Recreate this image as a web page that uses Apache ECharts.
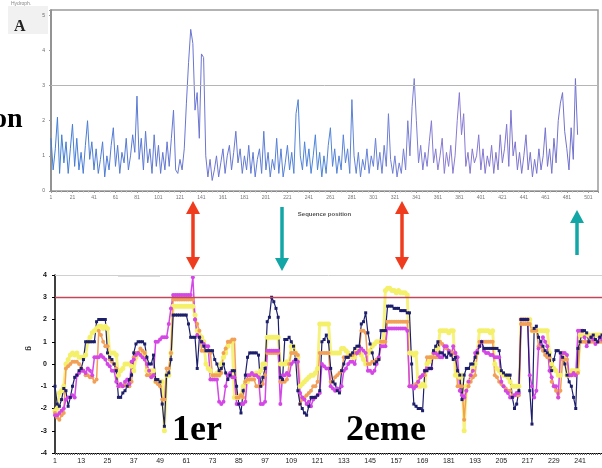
<!DOCTYPE html>
<html><head><meta charset="utf-8">
<script src="https://cdn.jsdelivr.net/npm/echarts@6/dist/echarts.min.js"></script>
<style>html,body{margin:0;padding:0;background:#fff}#c{width:602px;height:468px}</style>
</head><body><div id="c"></div>
<script>
// ---- Top profile (sequence position step 2) ----
const topValues = [
1.5,0.6,1.2,2.1,0.5,1.6,0.8,1.4,0.5,1.2,
1.9,0.7,1.5,0.6,1.1,0.5,1.3,2.0,0.9,1.4,
0.6,1.2,0.5,0.9,1.4,0.4,1.0,0.6,1.3,1.8,
0.7,1.3,0.5,1.1,0.8,1.5,0.6,1.0,1.6,1.1,
2.7,0.9,1.5,0.6,1.7,0.8,1.2,0.5,1.6,0.7,
1.3,0.5,1.1,0.6,1.4,0.7,1.5,2.3,0.6,0.5,
0.9,0.6,1.2,2.5,3.65,4.6,4.2,2.3,2.8,1.5,
3.9,3.8,1.0,0.4,0.9,0.3,0.6,1.0,0.4,0.8,
1.2,0.5,1.0,1.3,0.6,1.1,1.7,0.8,1.2,0.5,
1.0,0.6,1.3,0.5,1.1,0.4,0.9,1.2,0.5,1.7,
0.6,1.1,0.4,0.9,0.6,1.5,0.5,1.2,0.4,0.8,
1.3,0.6,1.1,0.5,2.2,2.6,1.0,0.6,1.4,0.7,
1.2,0.5,1.0,1.6,0.6,1.1,0.4,1.0,0.5,1.3,
1.8,0.7,1.2,0.5,1.0,0.6,1.6,0.8,1.2,0.5,
2.6,1.0,0.5,1.1,0.4,0.9,0.6,1.2,0.5,1.0,
0.7,1.5,0.6,1.1,0.5,1.3,0.7,2.2,0.9,0.5,
1.0,0.4,0.8,0.5,1.2,0.6,2.0,1.0,2.4,3.2,
2.0,0.8,1.3,0.6,1.1,0.7,1.4,2.0,0.8,1.2,
0.6,1.0,1.5,0.5,1.1,0.7,1.3,0.5,1.0,2.0,
2.8,1.6,2.2,0.7,1.1,0.5,1.2,0.8,1.0,1.6,
0.6,1.2,0.5,1.0,0.7,1.3,0.5,1.1,0.6,1.6,
0.8,1.2,1.9,0.7,2.3,1.0,1.4,0.6,1.1,0.5,
1.0,1.6,0.6,1.1,0.4,0.9,0.5,1.2,0.6,1.0,
1.8,0.7,1.2,0.5,1.5,0.8,2.0,2.5,2.8,1.7,
1.2,0.6,1.8,0.9,3.2,1.6
];
const topPositions = topValues.map((v, k) => 1 + 2 * k);
const topYTicks = [0, 1, 2, 3, 4, 5];
const topThreshold = 3;

// ---- Bottom profiles (positions 1..251) ----
const bottomCategories = Array.from({length: 251}, (_, i) => String(i + 1));
const navy = [
-1.0,-1.8,-1.9,-1.6,-1.1,-1.2,-1.9,-1.5,-1.0,-0.6,
-0.5,-0.3,-0.2,0.2,1.0,1.0,1.0,1.0,1.0,1.9,
2.0,2.0,2.0,2.0,0.5,0.3,0.2,0.0,-0.3,-1.5,
-1.5,-1.3,-1.2,-1.0,-0.7,-0.5,0.5,0.9,1.0,1.0,
1.0,0.9,0.3,0.0,0.0,0.4,-0.7,-0.7,-0.8,-1.8,
-2.8,-0.5,-0.4,0.2,2.2,2.2,2.2,2.2,2.2,2.2,
2.2,1.8,1.2,1.2,1.2,-0.2,1.2,1.0,0.8,0.6,
0.6,0.6,0.6,0.2,0.0,-0.3,-0.2,0.0,-0.4,-0.7,
-0.5,-0.3,-0.3,-1.0,-1.8,-2.2,-1.2,-0.5,0.3,0.5,
0.5,0.5,0.5,0.4,-1.0,-0.6,-0.2,1.9,2.1,3.0,
2.8,2.5,2.1,-0.6,-0.7,1.1,1.1,1.2,1.0,0.8,
0.2,-1.2,-1.8,-2.0,-2.2,-2.3,-1.9,-1.5,-1.5,-1.5,
-1.4,-1.2,1.0,1.1,1.3,1.0,-0.2,-0.8,-0.9,-1.2,
-1.3,-0.3,0.0,0.3,0.3,0.4,0.5,0.7,0.8,0.8,
1.8,1.9,2.3,1.4,0.9,0.5,0.0,0.1,0.2,1.5,
1.5,1.5,2.6,2.6,2.6,2.5,2.5,2.5,2.4,2.4,
2.4,2.3,2.3,0.0,-1.8,-1.9,-2.0,-2.0,-2.1,-0.3,
-0.3,-0.2,-0.2,0.6,0.8,1.0,0.5,0.5,0.4,0.3,
0.5,0.4,0.2,0.3,-0.3,-0.5,-1.6,-0.5,-0.2,-0.2,
0.0,0.0,0.3,0.5,0.8,1.0,0.7,0.7,0.7,0.7,
0.7,0.7,0.7,0.6,-0.3,-0.4,-0.5,-0.5,-0.5,-1.5,
-2.0,-1.8,-1.2,2.0,2.0,2.0,2.0,-1.2,-2.7,1.6,
1.7,1.2,1.0,0.8,0.6,0.5,0.4,-0.3,0.2,0.6,
0.6,0.5,0.3,0.0,-0.5,-0.8,-1.0,-1.5,-2.0,0.7,
1.0,1.5,1.5,1.4,1.0,1.2,1.3,1.1,1.0,1.2,1.3
];
const magenta = [
-2.3,-2.3,-2.2,-2.1,-2.0,-1.6,-1.5,-1.5,-1.4,-1.5,
-0.5,-0.4,-0.3,-0.3,-0.4,-0.2,-0.3,-0.5,0.3,0.3,
0.3,0.4,0.3,0.2,0.0,-0.1,-0.3,-0.3,-0.8,-1.0,
-0.9,-1.0,-0.8,-0.7,-0.9,0.1,0.2,0.4,0.5,0.4,
0.3,0.2,0.0,-0.3,-0.6,-0.5,1.0,1.0,1.1,1.2,
1.2,1.2,1.8,2.5,3.1,3.1,3.1,3.1,3.1,3.1,
3.1,3.1,3.1,3.9,2.0,1.3,1.2,1.0,0.9,0.8,
0.8,-0.7,-0.7,-0.7,-0.7,-1.7,-1.8,-1.7,-1.0,-0.5,
-0.4,-0.6,-0.6,-1.8,-1.8,-1.8,-1.8,-1.7,-0.5,-0.5,
-0.4,-0.5,-0.5,-0.6,-1.8,-1.8,-1.7,0.6,0.6,0.6,
0.6,0.6,0.6,-1.8,-0.5,-0.5,-0.4,-0.5,0.0,0.1,
0.2,0.1,-1.3,-1.5,-1.6,-1.8,-1.7,-1.9,-1.6,-1.5,
-1.4,-1.3,0.0,-0.1,-0.2,-0.2,-1.0,-1.1,-1.2,-1.1,
-1.2,-1.0,-0.3,-0.2,0.0,0.1,0.1,0.0,0.5,0.6,
0.7,0.6,0.5,-0.3,-0.3,-0.4,-0.3,0.0,0.3,0.8,
0.8,0.8,1.6,1.6,1.6,1.6,1.6,1.6,1.6,1.6,
1.6,1.5,-1.0,-1.0,-1.1,-1.0,-0.8,-0.6,-0.5,-0.3,
-0.2,-0.2,-0.2,0.5,0.5,0.4,0.3,0.3,0.8,0.8,
0.6,0.4,0.8,0.5,0.3,-1.2,-1.4,-1.5,-1.2,-0.8,
-0.5,-0.3,0.5,0.6,0.8,1.0,0.6,0.5,0.5,0.4,
0.4,0.3,0.3,0.3,-0.8,-1.0,-1.2,-1.3,-1.5,-1.5,
-1.4,-1.3,-1.3,2.0,2.0,2.0,2.0,-0.5,-1.0,-1.5,
-1.2,0.7,0.9,1.2,1.0,0.8,-0.3,-0.6,-1.0,-1.0,
-1.5,0.5,0.5,0.5,0.4,-0.5,-0.5,-0.4,-0.5,1.5,
1.5,1.5,1.2,0.8,1.0,1.2,1.1,0.9,1.0,1.2,1.1
];
const yellow = [
-2.1,-2.0,-1.3,-1.2,-1.0,0.0,0.2,0.4,0.5,0.4,
0.5,0.3,0.3,0.3,0.4,1.0,1.2,1.4,1.5,1.6,
1.7,1.7,1.6,1.7,1.6,0.5,0.5,0.5,0.4,-0.5,
-0.3,-0.2,0.0,0.0,0.0,-0.1,-0.3,0.3,0.5,0.5,
0.4,0.5,-0.3,-0.3,-0.3,-0.3,-0.8,-0.8,-0.8,-0.8,
-3.0,-0.5,-0.5,0.5,2.6,2.6,2.6,2.6,2.6,2.6,
2.6,2.6,2.6,2.6,2.2,1.5,1.3,1.2,1.0,0.0,
-0.2,-0.3,-0.5,-0.5,-0.4,-0.5,0.0,0.3,0.5,0.8,
1.0,1.0,-1.5,-1.5,-1.5,-1.4,-1.0,-0.8,-0.8,-0.5,
-0.5,-0.5,-0.4,-0.5,-0.3,0.0,0.0,1.2,1.2,1.2,
1.2,1.2,1.2,0.0,0.0,0.0,0.1,0.0,0.8,0.8,
0.5,0.3,-1.0,-0.9,-0.8,-0.7,-0.6,-0.5,-0.5,-0.4,
-0.2,1.8,1.8,1.8,1.8,1.8,0.5,0.5,0.5,0.5,
0.5,0.7,0.7,0.6,0.5,0.4,0.3,0.3,0.6,0.6,
0.4,0.2,0.0,0.5,0.6,0.8,0.9,1.0,1.0,1.0,
1.0,3.3,3.4,3.4,3.3,3.3,3.2,3.3,3.2,3.2,
3.2,3.1,0.5,0.5,0.4,0.5,-1.0,-1.0,-0.9,-1.0,
0.0,0.1,0.3,0.5,0.6,0.7,1.5,1.5,1.5,1.5,
1.4,1.5,1.5,-0.5,-0.5,-0.6,-0.5,-3.0,-1.0,-0.8,
-0.5,-0.2,0.0,0.5,1.5,1.5,1.5,1.5,1.5,1.4,
1.5,0.0,-0.2,-0.3,-0.4,-0.5,-0.5,-0.6,-0.8,-1.0,
-1.0,-1.0,-1.0,2.0,2.0,2.0,2.0,2.0,1.5,1.5,
1.5,1.5,1.5,1.5,1.5,1.5,0.5,0.0,-0.2,-0.3,
-0.5,-0.5,0.5,0.3,-0.5,-0.5,-0.3,-0.3,-0.3,-0.3,
1.3,1.3,1.3,1.3,1.3,1.2,1.3,1.3,1.3,1.3,1.3
];
const orange = [
-2.2,-2.4,-2.5,-2.3,-2.2,-0.2,-0.1,0.0,0.1,0.1,
0.1,0.0,-0.2,-0.3,-0.5,-0.5,-0.6,-0.6,-0.8,-0.7,
1.5,1.3,1.0,0.8,0.8,0.2,0.1,0.0,-0.2,-1.0,
-1.0,-1.0,-0.9,-1.0,-1.0,-0.8,0.3,0.5,0.5,0.7,
0.6,0.5,-0.5,-0.5,-0.5,-0.5,-0.8,-0.9,-1.0,-1.6,
-1.6,-0.2,-0.2,0.5,2.9,2.9,2.9,2.9,2.9,2.9,
2.9,2.9,2.9,2.9,2.0,1.8,1.5,0.6,0.6,0.6,
0.6,0.5,-0.5,-0.5,-0.5,-0.5,-0.4,0.5,0.7,1.0,
1.0,1.1,1.1,-1.5,-1.5,-1.4,-1.5,-0.8,-0.7,-0.7,
-0.7,-0.7,-1.0,-1.0,-1.0,-0.9,-0.5,0.5,0.5,0.5,
0.5,0.5,0.5,-0.8,-0.8,-0.8,-0.7,0.0,0.5,0.5,
0.5,0.4,-1.8,-1.6,-1.5,-1.4,-1.3,-1.2,-1.0,-1.0,
-0.8,0.5,0.5,0.5,0.5,0.5,-0.8,-0.8,-0.6,-0.5,
-0.4,-0.3,0.3,0.3,0.3,0.4,0.4,0.5,0.5,0.5,
1.5,1.5,1.4,0.0,0.0,0.1,0.1,0.2,0.2,1.0,
1.0,1.0,1.9,1.9,1.9,1.9,1.9,1.9,1.9,1.9,
1.9,1.9,-1.0,-1.0,-1.0,-0.9,-0.8,-0.6,-0.5,-0.5,
0.3,0.3,0.3,0.3,0.3,0.3,1.0,0.9,0.8,0.7,
0.6,0.5,0.5,0.5,-1.0,-1.0,-1.0,-2.5,-1.2,-1.0,
-0.8,-0.6,-0.5,0.5,1.0,1.0,1.0,1.0,1.0,1.0,
1.0,-0.5,-0.6,-0.8,-0.9,-1.0,-1.1,-1.2,-1.2,-1.4,
-1.4,-1.4,-1.4,1.8,1.8,1.8,1.8,1.8,1.5,1.5,
1.5,0.8,0.8,0.6,0.4,0.3,0.3,-0.8,-1.0,-1.2,
-1.5,-1.2,0.2,0.2,0.2,-0.5,-0.5,-0.5,-0.5,-0.4,
1.0,1.0,1.0,1.0,1.0,1.0,1.0,1.0,1.0,1.0,1.0
];
const bottomYTicks = [-4,-3,-2,-1,0,1,2,3,4];
const bottomThreshold = 3;
const bottomTopLine = 4;

const chart = echarts.init(document.getElementById('c'), null, {renderer: 'canvas'});
const serif = '"Liberation Serif","DejaVu Serif",serif';

function arrow(x, y1, y2, color, headTop, headBottom) {
  const els = [];
  const hw = 7, hl = 13;
  const s1 = headTop ? y1 + hl - 1 : y1;
  const s2 = headBottom ? y2 - hl + 1 : y2;
  els.push({type: 'line', shape: {x1: x, y1: s1, x2: x, y2: s2}, style: {stroke: color, lineWidth: 3.5}});
  if (headTop) els.push({type: 'polygon', shape: {points: [[x, y1], [x - hw, y1 + hl], [x + hw, y1 + hl]]}, style: {fill: color}});
  if (headBottom) els.push({type: 'polygon', shape: {points: [[x, y2], [x - hw, y2 - hl], [x + hw, y2 - hl]]}, style: {fill: color}});
  return els;
}

const red = '#f03c1e', teal = '#12a6a6';
const graphics = [].concat(
  arrow(193, 201, 270, red, true, true),
  arrow(282, 207, 271, teal, false, true),
  arrow(402, 201, 270, red, true, true),
  arrow(577, 210, 255, teal, true, false),
  [
    {type: 'rect', shape: {x: 8, y: 6, width: 40, height: 28}, style: {fill: '#f1f1f1'}, z: -1},
    {type: 'text', x: 11, y: 1, style: {text: 'Hydroph.', font: '5px sans-serif', fill: '#888'}},
    {type: 'text', x: 14, y: 19, style: {text: 'A', font: 'bold 16px ' + serif, fill: '#222'}},
    {type: 'text', x: -7, y: 106, style: {text: 'on', font: 'bold 28px ' + serif, fill: '#000'}},
    {type: 'text', x: 172, y: 413, style: {text: '1er', font: 'bold 36px ' + serif, fill: '#000'}},
    {type: 'text', x: 346, y: 413, style: {text: '2eme', font: 'bold 36px ' + serif, fill: '#000'}},
    {type: 'text', x: 33, y: 346, rotation: -Math.PI / 2, style: {text: 'g', font: 'bold 8px sans-serif', fill: '#333'}},
    {type: 'line', shape: {x1: 118, y1: 276, x2: 160, y2: 276}, style: {stroke: '#bbb', lineWidth: 1}}
  ]
);

const lineBase = {type: 'line', smooth: false, showAllSymbol: true, xAxisIndex: 1, yAxisIndex: 1};

chart.setOption({
  animation: false,
  backgroundColor: '#fff',
  graphic: graphics,
  grid: [
    {left: 51, right: 4, top: 10, height: 181, show: true, borderColor: '#9a9a9a', borderWidth: 1.5, backgroundColor: '#fff'},
    {left: 55, right: 0, top: 275, height: 178}
  ],
  xAxis: [
    {
      gridIndex: 0, type: 'value', min: 1, max: 510, interval: 20,
      axisLine: {show: true, onZero: false, lineStyle: {color: '#888'}},
      axisTick: {show: true, length: 2, lineStyle: {color: '#999'}},
      minorTick: {show: true, splitNumber: 4, length: 1.5, lineStyle: {color: '#bbb'}},
      axisLabel: {fontSize: 5, color: '#777', margin: 4, showMaxLabel: false},
      splitLine: {show: false},
      name: 'Sequence position', nameLocation: 'middle', nameGap: 20,
      nameTextStyle: {fontSize: 6, color: '#555', fontWeight: 'bold'}
    },
    {
      gridIndex: 1, type: 'category', data: bottomCategories, boundaryGap: false,
      axisLine: {show: true, onZero: false, lineStyle: {color: '#000', width: 1.2}},
      axisTick: {show: true, interval: 0, length: 2, lineStyle: {color: '#666'}},
      axisLabel: {interval: 11, fontSize: 7, color: '#222', margin: 5},
      splitLine: {show: false}
    }
  ],
  yAxis: [
    {
      gridIndex: 0, type: 'value', min: topYTicks[0], max: 5.15, interval: 1,
      axisLine: {show: true, onZero: false, lineStyle: {color: '#888', width: 1.5}},
      axisTick: {show: true, length: 2, lineStyle: {color: '#999'}},
      axisLabel: {fontSize: 5, color: '#666', margin: 6,
        formatter: v => topYTicks.includes(v) ? String(v) : ''},
      splitLine: {show: false}
    },
    {
      gridIndex: 1, type: 'value', min: bottomYTicks[0], max: bottomYTicks[bottomYTicks.length - 1], interval: 1,
      axisLine: {show: true, onZero: false, lineStyle: {color: '#000', width: 1.5}},
      axisTick: {show: true, length: 3, lineStyle: {color: '#000'}},
      axisLabel: {fontSize: 7, color: '#111', fontWeight: 'bold', margin: 8},
      splitLine: {show: false}
    }
  ],
  series: [
    {
      type: 'line', smooth: false, xAxisIndex: 0, yAxisIndex: 0,
      data: topValues.map((v, k) => [topPositions[k], v]),
      showSymbol: false, symbol: 'none',
      lineStyle: {width: 1,
        color: new echarts.graphic.LinearGradient(0, 0, 1, 0, [
        {offset: 0, color: '#3f7fd6'}, {offset: 0.3, color: '#6f74d0'},
        {offset: 0.5, color: '#4a84d8'}, {offset: 0.75, color: '#8a7ad2'},
        {offset: 1, color: '#6e70cc'}])},
      markLine: {silent: true, symbol: 'none', label: {show: false},
        lineStyle: {color: '#b5b5b5', width: 1, type: 'solid'},
        data: [{yAxis: topThreshold}]}
    },
    Object.assign({}, lineBase, {
      data: yellow, name: 'jaune',
      symbol: 'circle', symbolSize: 5, itemStyle: {color: '#f4f06a'},
      lineStyle: {width: 3, color: '#f4f06a', opacity: 0.85},
      markLine: {silent: true, symbol: 'none', label: {show: false},
        lineStyle: {color: '#d0d0d0', width: 1, type: 'solid', opacity: 1},
        data: [{yAxis: bottomTopLine}]}
    }),
    Object.assign({}, lineBase, {
      data: orange, name: 'orange',
      symbol: 'circle', symbolSize: 4, itemStyle: {color: '#f2a058'},
      lineStyle: {width: 1.5, color: '#f2a058'},
      markLine: {silent: true, symbol: 'none', label: {show: false},
        lineStyle: {color: '#c0485a', width: 1.3, type: 'solid', opacity: 1},
        data: [{yAxis: bottomThreshold}]}
    }),
    Object.assign({}, lineBase, {
      data: magenta, name: 'magenta',
      symbol: 'circle', symbolSize: 4, itemStyle: {color: '#d447e6'},
      lineStyle: {width: 1.5, color: '#d447e6'}
    }),
    Object.assign({}, lineBase, {
      data: navy, name: 'bleu',
      symbol: 'rect', symbolSize: 3, itemStyle: {color: '#1d1f6b'},
      lineStyle: {width: 1.2, color: '#1d1f6b'}
    })
  ]
});
</script>
</body></html>
